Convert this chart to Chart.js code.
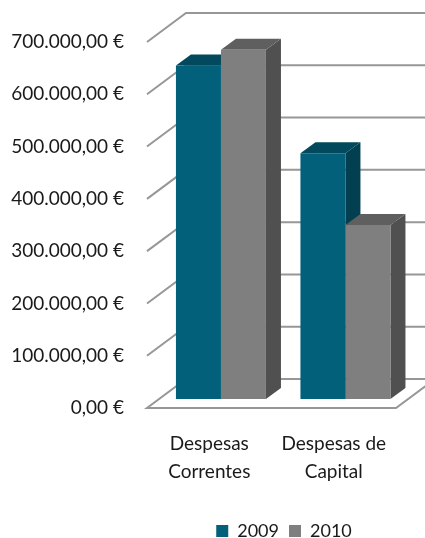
<!DOCTYPE html>
<html>
<head>
<meta charset="utf-8">
<style>
  html, body { margin: 0; padding: 0; background: #fff; overflow: hidden; }
  canvas { display: block; }
</style>
<script src="https://cdn.jsdelivr.net/npm/chart.js@4"></script>
</head>
<body>
<canvas id="myChart" width="425" height="538"></canvas>
<script>
// Values
const categories = [['Despesas', 'Correntes'], ['Despesas de', 'Capital']];
const values2009 = [638000, 470000];
const values2010 = [668000, 333000];
const seriesNames = ['2009', '2010'];

// Fake perspective: depth of the floor, and where the bars stand in it
const floorDepth = { x: 39, y: -29 };
const barOffset = { x: 11.7, y: -9 };
const barDepth = { x: 15, y: -11 };

const faceColors = [
    { side: '#023f50', top: '#03495d' },
    { side: '#505050', top: '#5f5f5f' }
];

function polygon(ctx, points, color) {
    ctx.fillStyle = color;
    ctx.beginPath();
    points.forEach((p, i) => i ? ctx.lineTo(p[0], p[1]) : ctx.moveTo(p[0], p[1]));
    ctx.closePath();
    ctx.fill();
}

const box3d = {
    id: 'box3d',
    afterLayout(chart) {
        // legend sits under the plot, not in the middle of the page
        chart.legend.left += 86;
        chart.legend.right += 86;
        chart.legend.top += 12;
        chart.legend.bottom += 12;
    },
    beforeDatasetsDraw(chart) {
        const ctx = chart.ctx;
        const y = chart.scales.y;
        const x = chart.scales.x;
        ctx.save();
        ctx.strokeStyle = '#979797';
        ctx.lineWidth = 2;
        y.ticks.forEach(t => {
            const py = y.getPixelForValue(t.value);
            ctx.beginPath();
            if (t.value === 0) {
                // floor outline
                ctx.moveTo(x.right + floorDepth.x, py + floorDepth.y);
                ctx.lineTo(x.right, py);
                ctx.lineTo(x.left, py);
                ctx.lineTo(x.left + floorDepth.x, py + floorDepth.y);
                ctx.lineTo(x.right + floorDepth.x, py + floorDepth.y);
            } else {
                ctx.moveTo(x.left, py);
                ctx.lineTo(x.left + floorDepth.x, py + floorDepth.y);
                ctx.lineTo(x.right + floorDepth.x, py + floorDepth.y);
            }
            ctx.stroke();
        });
        ctx.restore();

        // sides and tops first, 2009 then 2010, so the front faces cover them
        ctx.save();
        ctx.translate(barOffset.x, barOffset.y);
        chart.data.datasets.forEach((ds, i) => {
            chart.getDatasetMeta(i).data.forEach(bar => {
                const l = bar.x - bar.width / 2;
                const r = bar.x + bar.width / 2;
                polygon(ctx, [[r, bar.y], [r + barDepth.x, bar.y + barDepth.y],
                    [r + barDepth.x, bar.base + barDepth.y], [r, bar.base]], faceColors[i].side);
                polygon(ctx, [[l, bar.y], [l + barDepth.x, bar.y + barDepth.y],
                    [r + barDepth.x, bar.y + barDepth.y], [r, bar.y]], faceColors[i].top);
            });
        });
    },
    afterDatasetsDraw(chart) {
        chart.ctx.restore();
    }
};

const data = {
    labels: categories,
    datasets: [{
        label: seriesNames[0],
        data: values2009,
        backgroundColor: '#02607a'
    }, {
        label: seriesNames[1],
        data: values2010,
        backgroundColor: '#7f7f7f'
    }]
};

new Chart(document.getElementById('myChart'), {
    type: 'bar',
    data: data,
    plugins: [box3d],
    options: {
        responsive: false,
        animation: false,
        layout: { padding: { top: 42, right: 29, left: 0, bottom: 0 } },
        datasets: {
            bar: { categoryPercentage: 0.723, barPercentage: 1, clip: false }
        },
        scales: {
            x: {
                grid: { display: false },
                border: { display: false },
                ticks: {
                    color: '#1a1a1a',
                    font: { family: 'Lato', size: 19, lineHeight: 1.47 },
                    padding: 14,
                    maxRotation: 0,
                    autoSkip: false
                },
                afterFit(scale) { scale.height = 92; }
            },
            y: {
                min: 0,
                max: 700000,
                grid: { display: false },
                border: { display: false },
                ticks: {
                    stepSize: 100000,
                    color: '#1a1a1a',
                    font: { family: 'Lato', size: 19 },
                    padding: 15,
                    callback: v => v.toLocaleString('de-DE', { minimumFractionDigits: 2 }) + ' €'
                },
                afterFit(scale) { scale.width = 147; }
            }
        },
        plugins: {
            tooltip: { enabled: false },
            legend: {
                position: 'bottom',
                labels: {
                    color: '#1a1a1a',
                    font: { family: 'Lato', size: 18 },
                    boxWidth: 12,
                    boxHeight: 12,
                    padding: 10
                }
            }
        }
    }
});
</script>
</body>
</html>
